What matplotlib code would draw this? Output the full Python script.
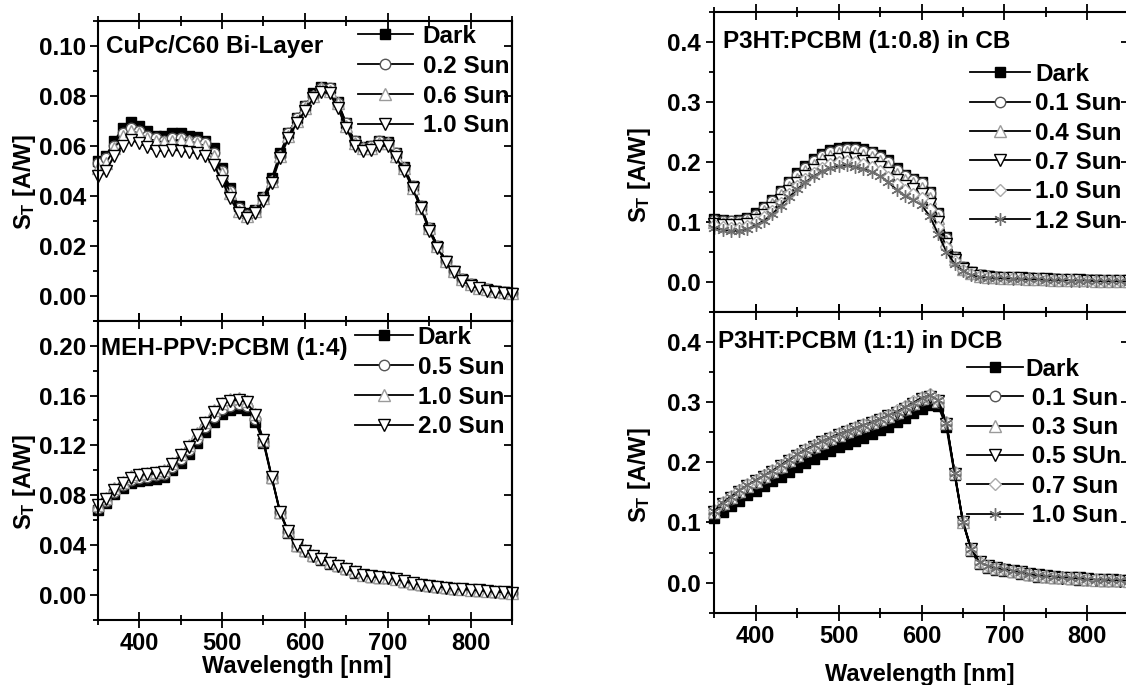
import numpy as np
import matplotlib
matplotlib.use("Agg")
import matplotlib.pyplot as plt
from matplotlib.ticker import MultipleLocator, FormatStrFormatter

plt.rcParams['font.family'] = 'Liberation Sans'
plt.rcParams['font.weight'] = 'bold'
plt.rcParams['font.size'] = 17.5
plt.rcParams['xtick.labelsize'] = 17
plt.rcParams['ytick.labelsize'] = 17.5
plt.rcParams['axes.labelsize'] = 17
plt.rcParams['axes.labelweight'] = 'bold'
plt.rcParams['mathtext.fontset'] = 'custom'
plt.rcParams['mathtext.rm'] = 'Liberation Sans:bold'
plt.rcParams['mathtext.bf'] = 'Liberation Sans:bold'
plt.rcParams['mathtext.it'] = 'Liberation Sans:bold'

# wavelength grid (nm), one point every 10 nm
wl = np.arange(350, 851, 10)

# --- CuPc/C60 bi-layer ---
cupc_labels = ["Dark", "0.2 Sun", "0.6 Sun", "1.0 Sun"]
cupc_dark = [0.054, 0.056, 0.062, 0.067, 0.0695, 0.068, 0.066, 0.064, 0.064, 0.065, 0.065, 0.064, 0.0635,
             0.062, 0.059, 0.051, 0.043, 0.036, 0.033, 0.0345, 0.0395, 0.047, 0.057, 0.065, 0.071, 0.076,
             0.081, 0.0835, 0.083, 0.0775, 0.069, 0.062, 0.0595, 0.060, 0.062, 0.0615, 0.057, 0.0515, 0.044,
             0.036, 0.027, 0.020, 0.014, 0.010, 0.0065, 0.0045, 0.003, 0.0025, 0.002, 0.0015, 0.001]
cupc_02 = [0.053, 0.055, 0.060, 0.065, 0.067, 0.066, 0.064, 0.063, 0.062, 0.063, 0.063, 0.062, 0.062,
           0.061, 0.057, 0.050, 0.042, 0.035, 0.0325, 0.034, 0.039, 0.046, 0.056, 0.065, 0.071, 0.076,
           0.080, 0.083, 0.083, 0.077, 0.069, 0.062, 0.059, 0.060, 0.062, 0.061, 0.057, 0.051, 0.044,
           0.036, 0.027, 0.020, 0.014, 0.010, 0.0065, 0.0045, 0.003, 0.0025, 0.002, 0.0015, 0.001]
cupc_06 = [0.051, 0.053, 0.059, 0.064, 0.066, 0.065, 0.063, 0.062, 0.0615, 0.062, 0.0625, 0.062, 0.061,
           0.060, 0.056, 0.049, 0.041, 0.034, 0.032, 0.034, 0.039, 0.046, 0.056, 0.064, 0.070, 0.075,
           0.080, 0.083, 0.082, 0.077, 0.068, 0.061, 0.059, 0.059, 0.061, 0.061, 0.056, 0.051, 0.043,
           0.035, 0.027, 0.020, 0.014, 0.010, 0.0065, 0.0045, 0.003, 0.0025, 0.002, 0.0015, 0.001]
cupc_10 = [0.048, 0.050, 0.056, 0.060, 0.0625, 0.061, 0.0595, 0.058, 0.058, 0.0585, 0.058, 0.0575, 0.057,
           0.056, 0.0525, 0.046, 0.039, 0.033, 0.031, 0.033, 0.038, 0.045, 0.055, 0.063, 0.069, 0.074,
           0.079, 0.0815, 0.081, 0.075, 0.067, 0.060, 0.058, 0.0585, 0.060, 0.060, 0.0555, 0.050, 0.043,
           0.035, 0.026, 0.019, 0.0135, 0.0095, 0.006, 0.004, 0.003, 0.002, 0.0015, 0.001, 0.0005]

# --- MEH-PPV:PCBM (1:4) ---
meh_labels = ["Dark", "0.5 Sun", "1.0 Sun", "2.0 Sun"]
meh_dark = [0.0685, 0.074, 0.081, 0.086, 0.090, 0.0917, 0.0925, 0.0933, 0.095, 0.100, 0.106, 0.113, 0.122,
            0.131, 0.139, 0.145, 0.1485, 0.150, 0.1485, 0.139, 0.122, 0.094, 0.066, 0.050, 0.039, 0.035,
            0.031, 0.0285, 0.0253, 0.023, 0.0205, 0.018, 0.0157, 0.0147, 0.014, 0.0136, 0.0125, 0.0107, 0.009,
            0.008, 0.0072, 0.0065, 0.0058, 0.005, 0.0045, 0.004, 0.0035, 0.003, 0.0025, 0.002, 0.0015]
meh_05 = [0.070, 0.0755, 0.083, 0.088, 0.0925, 0.094, 0.095, 0.096, 0.097, 0.103, 0.109, 0.116, 0.125,
          0.135, 0.143, 0.149, 0.152, 0.1535, 0.152, 0.1415, 0.123, 0.0945, 0.0665, 0.0505, 0.0395, 0.0355,
          0.0315, 0.029, 0.0258, 0.0235, 0.021, 0.0185, 0.016, 0.015, 0.0143, 0.0139, 0.0128, 0.011, 0.0093,
          0.0083, 0.0075, 0.0067, 0.006, 0.0052, 0.0047, 0.0042, 0.0037, 0.0032, 0.0027, 0.0022, 0.0017]
meh_10 = [0.0725, 0.078, 0.0855, 0.091, 0.0955, 0.097, 0.098, 0.0985, 0.100, 0.106, 0.113, 0.120, 0.130,
          0.139, 0.148, 0.154, 0.157, 0.158, 0.156, 0.145, 0.1245, 0.095, 0.067, 0.051, 0.040, 0.036,
          0.032, 0.0295, 0.0263, 0.024, 0.0215, 0.019, 0.0163, 0.0153, 0.0146, 0.0142, 0.0131, 0.0113, 0.0096,
          0.0086, 0.0078, 0.007, 0.0062, 0.0054, 0.0049, 0.0044, 0.0039, 0.0034, 0.0029, 0.0024, 0.0019]
meh_20 = [0.072, 0.077, 0.0845, 0.090, 0.094, 0.0965, 0.097, 0.0975, 0.099, 0.105, 0.112, 0.119, 0.128,
          0.138, 0.147, 0.153, 0.156, 0.1565, 0.155, 0.144, 0.124, 0.095, 0.067, 0.051, 0.040, 0.0355,
          0.0315, 0.029, 0.026, 0.0235, 0.021, 0.0185, 0.016, 0.015, 0.0143, 0.0139, 0.0128, 0.011, 0.0093,
          0.0083, 0.0075, 0.0067, 0.006, 0.0052, 0.0047, 0.0042, 0.0037, 0.0032, 0.0027, 0.0022, 0.0017]

# --- P3HT:PCBM (1:0.8) in CB ---
cb_labels = ["Dark", "0.1 Sun", "0.4 Sun", "0.7 Sun", "1.0 Sun", "1.2 Sun"]
cb_dark = [0.104, 0.103, 0.102, 0.103, 0.106, 0.114, 0.125, 0.136, 0.152, 0.167, 0.181, 0.193, 0.204,
           0.213, 0.219, 0.223, 0.225, 0.224, 0.221, 0.216, 0.211, 0.203, 0.190, 0.178, 0.172, 0.166,
           0.150, 0.114, 0.074, 0.042, 0.025, 0.017, 0.011, 0.009, 0.008, 0.007, 0.0065, 0.006, 0.0055,
           0.005, 0.0045, 0.004, 0.0035, 0.003, 0.003, 0.0025, 0.0025, 0.002, 0.002, 0.0015, 0.0015]
cb_01 = [0.103, 0.102, 0.101, 0.102, 0.105, 0.112, 0.123, 0.134, 0.149, 0.164, 0.178, 0.190, 0.201,
         0.210, 0.216, 0.220, 0.222, 0.221, 0.218, 0.214, 0.208, 0.200, 0.187, 0.176, 0.170, 0.164,
         0.148, 0.113, 0.073, 0.041, 0.024, 0.016, 0.011, 0.009, 0.008, 0.007, 0.0065, 0.006, 0.0055,
         0.005, 0.0045, 0.004, 0.0035, 0.003, 0.003, 0.0025, 0.0025, 0.002, 0.002, 0.0015, 0.0015]
cb_04 = [0.100, 0.098, 0.097, 0.098, 0.101, 0.108, 0.118, 0.129, 0.144, 0.158, 0.172, 0.184, 0.195,
         0.204, 0.210, 0.214, 0.216, 0.215, 0.212, 0.208, 0.202, 0.193, 0.180, 0.170, 0.164, 0.157,
         0.140, 0.106, 0.068, 0.038, 0.022, 0.015, 0.010, 0.008, 0.0075, 0.007, 0.006, 0.0055, 0.005,
         0.0045, 0.004, 0.0035, 0.003, 0.003, 0.0025, 0.0025, 0.002, 0.002, 0.0015, 0.0015, 0.001]
cb_07 = [0.097, 0.095, 0.094, 0.094, 0.097, 0.103, 0.112, 0.123, 0.137, 0.151, 0.164, 0.176, 0.187,
         0.195, 0.201, 0.205, 0.206, 0.205, 0.202, 0.198, 0.191, 0.182, 0.170, 0.160, 0.154, 0.147,
         0.130, 0.099, 0.063, 0.036, 0.021, 0.014, 0.0095, 0.008, 0.007, 0.0065, 0.006, 0.0055, 0.005,
         0.0045, 0.004, 0.0035, 0.003, 0.0025, 0.0025, 0.002, 0.002, 0.0015, 0.0015, 0.001, 0.001]
cb_10 = [0.095, 0.092, 0.090, 0.090, 0.093, 0.099, 0.108, 0.118, 0.132, 0.146, 0.159, 0.171, 0.181,
         0.190, 0.196, 0.200, 0.201, 0.200, 0.197, 0.192, 0.185, 0.175, 0.163, 0.153, 0.146, 0.139,
         0.121, 0.091, 0.058, 0.034, 0.020, 0.013, 0.009, 0.0075, 0.0065, 0.006, 0.0055, 0.005, 0.0045,
         0.004, 0.0035, 0.003, 0.003, 0.0025, 0.002, 0.002, 0.0015, 0.0015, 0.001, 0.001, 0.0005]
cb_12 = [0.090, 0.087, 0.085, 0.085, 0.088, 0.094, 0.102, 0.113, 0.127, 0.141, 0.154, 0.166, 0.176,
         0.184, 0.190, 0.193, 0.194, 0.192, 0.188, 0.183, 0.176, 0.166, 0.153, 0.143, 0.136, 0.128,
         0.109, 0.080, 0.050, 0.030, 0.018, 0.011, 0.008, 0.007, 0.006, 0.006, 0.005, 0.005, 0.004,
         0.004, 0.003, 0.003, 0.003, 0.002, 0.002, 0.002, 0.001, 0.001, 0.001, 0.001, 0.000]

# --- P3HT:PCBM (1:1) in DCB ---
dcb_labels = ["Dark", " 0.1 Sun", " 0.3 Sun", " 0.5 SUn", " 0.7 Sun", " 1.0 Sun"]
dcb_dark = [0.108, 0.118, 0.127, 0.136, 0.145, 0.152, 0.160, 0.168, 0.176, 0.184, 0.192, 0.199, 0.206,
            0.213, 0.219, 0.225, 0.230, 0.236, 0.241, 0.247, 0.253, 0.259, 0.266, 0.273, 0.281, 0.289,
            0.295, 0.294, 0.258, 0.178, 0.100, 0.053, 0.031, 0.025, 0.021, 0.019, 0.017, 0.014, 0.012,
            0.010, 0.009, 0.008, 0.007, 0.006, 0.005, 0.004, 0.004, 0.003, 0.003, 0.002, 0.002]
dcb_01 = [0.116, 0.129, 0.139, 0.149, 0.158, 0.166, 0.174, 0.182, 0.191, 0.200, 0.209, 0.217, 0.224,
          0.231, 0.237, 0.243, 0.248, 0.253, 0.258, 0.263, 0.268, 0.274, 0.280, 0.287, 0.295, 0.303,
          0.307, 0.300, 0.264, 0.181, 0.101, 0.055, 0.033, 0.027, 0.023, 0.021, 0.019, 0.016, 0.013,
          0.011, 0.010, 0.009, 0.008, 0.007, 0.006, 0.005, 0.005, 0.004, 0.004, 0.003, 0.003]
dcb_03 = [0.118, 0.132, 0.142, 0.152, 0.161, 0.169, 0.177, 0.185, 0.194, 0.203, 0.212, 0.220, 0.227,
          0.234, 0.240, 0.246, 0.251, 0.256, 0.261, 0.266, 0.271, 0.277, 0.283, 0.290, 0.298, 0.306,
          0.310, 0.302, 0.265, 0.182, 0.101, 0.055, 0.034, 0.028, 0.024, 0.022, 0.020, 0.017, 0.014,
          0.012, 0.011, 0.010, 0.009, 0.008, 0.007, 0.006, 0.005, 0.005, 0.004, 0.004, 0.003]
dcb_05 = [0.117, 0.131, 0.141, 0.151, 0.160, 0.168, 0.176, 0.184, 0.193, 0.202, 0.211, 0.219, 0.226,
          0.233, 0.239, 0.245, 0.250, 0.255, 0.260, 0.265, 0.270, 0.276, 0.282, 0.289, 0.297, 0.305,
          0.309, 0.301, 0.264, 0.181, 0.100, 0.055, 0.034, 0.027, 0.024, 0.021, 0.019, 0.017, 0.014,
          0.012, 0.011, 0.009, 0.008, 0.007, 0.007, 0.006, 0.005, 0.004, 0.004, 0.003, 0.003]
dcb_07 = [0.120, 0.134, 0.144, 0.154, 0.163, 0.171, 0.179, 0.187, 0.196, 0.205, 0.214, 0.222, 0.229,
          0.236, 0.242, 0.248, 0.253, 0.258, 0.263, 0.268, 0.273, 0.279, 0.286, 0.293, 0.301, 0.309,
          0.313, 0.304, 0.266, 0.183, 0.102, 0.056, 0.035, 0.028, 0.025, 0.022, 0.020, 0.017, 0.015,
          0.013, 0.011, 0.010, 0.009, 0.008, 0.007, 0.006, 0.006, 0.005, 0.004, 0.004, 0.003]
dcb_10 = [0.119, 0.133, 0.143, 0.153, 0.162, 0.170, 0.178, 0.186, 0.195, 0.204, 0.213, 0.221, 0.228,
          0.235, 0.241, 0.247, 0.252, 0.257, 0.262, 0.267, 0.272, 0.278, 0.284, 0.291, 0.299, 0.307,
          0.311, 0.303, 0.265, 0.182, 0.101, 0.055, 0.034, 0.028, 0.024, 0.022, 0.020, 0.017, 0.014,
          0.012, 0.011, 0.010, 0.009, 0.008, 0.007, 0.006, 0.005, 0.005, 0.004, 0.004, 0.003]

# marker looks, Origin-like
SQ = dict(marker='s', ms=7, mfc='black', mec='black')
CI = dict(marker='o', ms=7.5, mfc='white', mec='#555555')
UP = dict(marker='^', ms=9, mfc='white', mec='#9a9a9a')
DN = dict(marker='v', ms=9, mfc='white', mec='black')
DI = dict(marker='D', ms=6, mfc='white', mec='#aaaaaa')
ST = dict(marker=(6, 2, 0), ms=9, mfc='#707070', mec='#707070')

W, H = 1126, 685
fig = plt.figure(figsize=(W / 100, H / 100), dpi=100)


def px_axes(x0, y0, x1, y1):
    # box given in image pixels, origin top-left
    return fig.add_axes([x0 / W, 1 - y1 / H, (x1 - x0) / W, (y1 - y0) / H])


def setup(ax, ylim, ymaj, ymin, fmt, xlabels, ypad):
    ax.set_xlim(350, 850)
    ax.set_ylim(*ylim)
    ax.xaxis.set_major_locator(MultipleLocator(100))
    ax.xaxis.set_minor_locator(MultipleLocator(50))
    ax.yaxis.set_major_locator(MultipleLocator(ymaj))
    ax.yaxis.set_minor_locator(MultipleLocator(ymin))
    ax.yaxis.set_major_formatter(FormatStrFormatter(fmt))
    for s in ax.spines.values():
        s.set_linewidth(1.5)
    ax.tick_params(axis='x', which='major', direction='inout', length=12, width=1.3,
                   top=True, bottom=True, labelbottom=xlabels, pad=3)
    ax.tick_params(axis='x', which='minor', direction='inout', length=7, width=1.3,
                   top=True, bottom=True)
    ax.tick_params(axis='y', which='major', direction='out', length=6, width=1.3,
                   left=True, right=False, pad=ypad)
    ax.tick_params(axis='y', which='minor', direction='out', length=3.5, width=1.3,
                   left=True, right=False)
    sec = ax.secondary_yaxis('right')
    sec.yaxis.set_major_locator(MultipleLocator(ymaj))
    sec.tick_params(axis='y', which='major', direction='in', length=6, width=1.3, labelright=False)
    sec.spines['right'].set_linewidth(1.5)
    ax.set_ylabel(r'$\mathregular{S_T}$ [A/W]')


def draw(ax, series, labels, styles):
    for y, lab, st in zip(series, labels, styles):
        ax.plot(wl, y, color='black', lw=1.3, mew=1.0, label=lab, clip_on=False, **st)


def legend(ax, x, y, hl, htp, sp):
    ax.legend(loc='upper left', bbox_to_anchor=(x / W, 1 - y / H), bbox_transform=fig.transFigure,
              frameon=False, borderpad=0, borderaxespad=0, numpoints=1,
              handlelength=hl, handletextpad=htp, labelspacing=sp)


# left column
ax1 = px_axes(97.7, 21, 512, 320.7)
draw(ax1, [cupc_dark, cupc_02, cupc_06, cupc_10], cupc_labels, [SQ, CI, UP, DN])
setup(ax1, (-0.01, 0.11), 0.02, 0.01, '%.2f', False, 2.4)
ax1.yaxis.set_label_coords(-0.143, 0.461)
ax1.text(0.02, 0.893, "CuPc/C60 Bi-Layer", transform=ax1.transAxes, ha='left', va='baseline')
legend(ax1, 358, 25, 2.26, 0.4, 0.28)

ax2 = px_axes(97.7, 320.7, 512, 620)
draw(ax2, [meh_dark, meh_05, meh_10, meh_20], meh_labels, [SQ, CI, UP, DN])
setup(ax2, (-0.02, 0.22), 0.04, 0.02, '%.2f', True, 2.4)
ax2.yaxis.set_label_coords(-0.143, 0.459)
ax2.set_xlabel("Wavelength [nm]")
ax2.xaxis.set_label_coords(0.481, -0.118)
ax2.text(0.008, 0.885, "MEH-PPV:PCBM (1:4)", transform=ax2.transAxes, ha='left', va='baseline')
legend(ax2, 355, 326, 2.38, 0.2, 0.28)

# right column (right edge runs just past the picture)
ax3 = px_axes(714.3, 11.7, 1128.7, 311.7)
draw(ax3, [cb_dark, cb_01, cb_04, cb_07, cb_10, cb_12], cb_labels, [SQ, CI, UP, DN, DI, ST])
setup(ax3, (-0.05, 0.45), 0.1, 0.05, '%.1f', False, 3.6)
ax3.yaxis.set_label_coords(-0.147, 0.456)
ax3.text(0.0217, 0.878, "P3HT:PCBM (1:0.8) in CB", transform=ax3.transAxes, ha='left', va='baseline')
legend(ax3, 970, 63, 2.47, 0.2, 0.26)

ax4 = px_axes(714.3, 311.7, 1128.7, 612.7)
draw(ax4, [dcb_dark, dcb_01, dcb_03, dcb_05, dcb_07, dcb_10], dcb_labels, [SQ, CI, UP, DN, DI, ST])
setup(ax4, (-0.05, 0.45), 0.1, 0.05, '%.1f', True, 3.6)
ax4.yaxis.set_label_coords(-0.147, 0.457)
ax4.set_xlabel("Wavelength [nm]")
ax4.xaxis.set_label_coords(0.496, -0.168)
ax4.text(0.0097, 0.878, "P3HT:PCBM (1:1) in DCB", transform=ax4.transAxes, ha='left', va='baseline')
legend(ax4, 967, 357.5, 2.3, 0.1, 0.26)

fig.savefig("out.png", dpi=100)
